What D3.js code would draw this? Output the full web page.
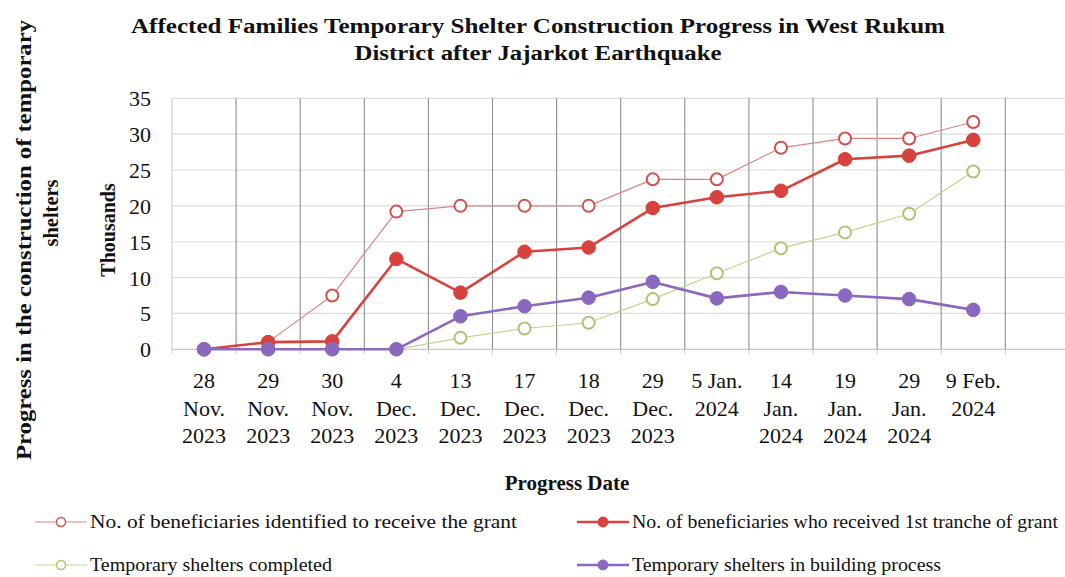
<!DOCTYPE html>
<html>
<head>
<meta charset="utf-8">
<script src="https://cdn.jsdelivr.net/npm/d3@7"></script>
<style>
  html, body { margin: 0; padding: 0; background: #fff; }
  svg { display: block; }
  svg text { font-family: "Liberation Serif", "DejaVu Serif", serif; }
</style>
</head>
<body>
<svg id="chart" width="1065" height="577"></svg>
<script>
// Progress dates (each label split over lines)
const dateLabels = [
  ["28", "Nov.", "2023"],
  ["29", "Nov.", "2023"],
  ["30", "Nov.", "2023"],
  ["4", "Dec.", "2023"],
  ["13", "Dec.", "2023"],
  ["17", "Dec.", "2023"],
  ["18", "Dec.", "2023"],
  ["29", "Dec.", "2023"],
  ["5 Jan.", "2024"],
  ["14", "Jan.", "2024"],
  ["19", "Jan.", "2024"],
  ["29", "Jan.", "2024"],
  ["9 Feb.", "2024"]
];

// Values in thousands
const identified = [0, 1.0, 7.5, 19.2, 20.0, 20.0, 20.0, 23.7, 23.7, 28.1, 29.4, 29.4, 31.7];
const firstTranche = [0, 1.0, 1.1, 12.6, 7.9, 13.6, 14.2, 19.7, 21.2, 22.1, 26.5, 27.0, 29.2];
const completed = [0, 0, 0, 0, 1.6, 2.9, 3.7, 7.0, 10.6, 14.1, 16.3, 18.9, 24.8];
const inProgress = [0, 0, 0, 0, 4.6, 6.0, 7.2, 9.4, 7.1, 8.0, 7.5, 7.0, 5.5];

const yTicks = [0, 5, 10, 15, 20, 25, 30, 35];

const seriesNames = [
  "No. of beneficiaries identified to receive the grant",
  "No. of beneficiaries who received 1st tranche of grant",
  "Temporary shelters completed",
  "Temporary shelters in building process"
];

const series = [
  { name: seriesNames[0], values: identified,   color: "#d2504c", line: "#dc8582", lw: 1.2, filled: false },
  { name: seriesNames[1], values: firstTranche, color: "#d8423c", line: "#d8423c", lw: 2.6, filled: true },
  { name: seriesNames[2], values: completed,    color: "#a9c76c", line: "#bfd68f", lw: 1.2, filled: false },
  { name: seriesNames[3], values: inProgress,   color: "#8a68bf", line: "#8a68bf", lw: 2.6, filled: true }
];

const FONT = "Liberation Serif";
const svg = d3.select("#chart");
const plotLeft = 172, plotTop = 98.3, plotBottom = 349.3, bandW = 64.1;
const nBands = dateLabels.length + 1; // one empty band after the last date

const x = d3.scaleBand()
  .domain(d3.range(nBands))
  .range([plotLeft, plotLeft + nBands * bandW])
  .paddingInner(0).paddingOuter(0);
const y = d3.scaleLinear().domain([0, 35]).range([plotBottom, plotTop]);
const cx = i => x(i) + x.bandwidth() / 2;

// Horizontal grid
svg.append("g").selectAll("line").data(yTicks).join("line")
  .attr("x1", plotLeft).attr("x2", plotLeft + nBands * bandW)
  .attr("y1", d => y(d)).attr("y2", d => y(d))
  .attr("stroke", d => d === 0 ? "#c8c8c8" : "#dcdcdc").attr("stroke-width", 1.2);

// Left edge
svg.append("line")
  .attr("x1", plotLeft).attr("x2", plotLeft)
  .attr("y1", y(35)).attr("y2", y(0))
  .attr("stroke", "#d0d0d0").attr("stroke-width", 1.2);

// Vertical category separators
svg.append("g").selectAll("line").data(d3.range(1, nBands)).join("line")
  .attr("x1", d => x(d)).attr("x2", d => x(d))
  .attr("y1", y(35)).attr("y2", y(0))
  .attr("stroke", "#8e8e8e").attr("stroke-width", 1.1);

// Small ticks below baseline
svg.append("g").selectAll("line").data(d3.range(0, nBands + 1)).join("line")
  .attr("x1", d => plotLeft + d * bandW).attr("x2", d => plotLeft + d * bandW)
  .attr("y1", y(0)).attr("y2", y(0) + 5)
  .attr("stroke", "#d0d0d0").attr("stroke-width", 1);

// Y axis labels
const yAxis = d3.axisLeft(y).tickValues(yTicks).tickSize(0).tickPadding(0).tickFormat(d3.format("d"));
const yg = svg.append("g").attr("transform", "translate(151,0)").call(yAxis)
  .attr("font-family", FONT);
yg.select(".domain").remove();
yg.selectAll("text").attr("font-size", 22).attr("fill", "#111")
  .attr("font-family", FONT).attr("dy", "0.34em");

// X axis labels
const xg = svg.append("g").attr("font-family", FONT);
dateLabels.forEach((lines, i) => {
  const t = xg.append("text").attr("x", cx(i)).attr("y", 388)
    .attr("text-anchor", "middle").attr("font-size", 22).attr("fill", "#111")
    .attr("font-family", FONT);
  lines.forEach((ln, k) => {
    t.append("tspan").attr("x", cx(i)).attr("dy", k === 0 ? 0 : 27.5).text(ln);
  });
});

// Series lines and markers
const line = d3.line().x((d, i) => cx(i)).y(d => y(d));
series.forEach(s => {
  svg.append("path").datum(s.values)
    .attr("d", line).attr("fill", "none")
    .attr("stroke", s.line).attr("stroke-width", s.lw)
    .attr("stroke-linejoin", "round");
  svg.append("g").selectAll("circle").data(s.values).join("circle")
    .attr("cx", (d, i) => cx(i)).attr("cy", d => y(d))
    .attr("r", s.filled ? 6.8 : 6)
    .attr("fill", s.filled ? s.color : "#fff")
    .attr("stroke", s.color).attr("stroke-width", s.filled ? 1 : 2);
});

function label(sel) {
  return sel.attr("font-family", FONT).attr("fill", "#111");
}

// Title
label(svg.append("text")).attr("x", 538).attr("y", 33).attr("text-anchor", "middle")
  .attr("font-size", 20).attr("font-weight", "bold")
  .attr("textLength", 814).attr("lengthAdjust", "spacingAndGlyphs")
  .text("Affected Families Temporary Shelter Construction Progress in West Rukum");
label(svg.append("text")).attr("x", 538).attr("y", 60).attr("text-anchor", "middle")
  .attr("font-size", 20).attr("font-weight", "bold")
  .attr("textLength", 367).attr("lengthAdjust", "spacingAndGlyphs")
  .text("District after Jajarkot Earthquake");

// Axis titles
label(svg.append("text")).attr("x", 567).attr("y", 490).attr("text-anchor", "middle")
  .attr("font-size", 21).attr("font-weight", "bold")
  .text("Progress Date");

label(svg.append("text")).attr("transform", "translate(115,230) rotate(-90)")
  .attr("text-anchor", "middle").attr("font-size", 20).attr("font-weight", "bold")
  .text("Thousands");

label(svg.append("text")).attr("transform", "translate(31,240) rotate(-90)")
  .attr("text-anchor", "middle").attr("font-size", 20).attr("font-weight", "bold")
  .attr("textLength", 440).attr("lengthAdjust", "spacingAndGlyphs")
  .text("Progress in the construction of temporary");
label(svg.append("text")).attr("transform", "translate(58,213) rotate(-90)")
  .attr("text-anchor", "middle").attr("font-size", 20).attr("font-weight", "bold")
  .attr("textLength", 67).attr("lengthAdjust", "spacingAndGlyphs")
  .text("shelters");

// Legend
const legendPos = [
  { x: 35, y: 522, tx: 90, w: 427 },
  { x: 577, y: 522, tx: 632, w: 426 },
  { x: 35, y: 565, tx: 90, w: 242 },
  { x: 577, y: 565, tx: 632, w: 309 }
];
series.forEach((s, i) => {
  const p = legendPos[i];
  const g = svg.append("g");
  g.append("line").attr("x1", p.x).attr("x2", p.x + 52)
    .attr("y1", p.y).attr("y2", p.y)
    .attr("stroke", s.line).attr("stroke-width", s.filled ? 2.6 : 1.2);
  g.append("circle").attr("cx", p.x + 26).attr("cy", p.y)
    .attr("r", s.filled ? 5 : 4.5)
    .attr("fill", s.filled ? s.color : "#fff")
    .attr("stroke", s.color).attr("stroke-width", s.filled ? 1 : 1.5);
  label(g.append("text")).attr("x", p.tx).attr("y", p.y + 6)
    .attr("font-size", 19)
    .attr("textLength", p.w).attr("lengthAdjust", "spacingAndGlyphs")
    .text(s.name);
});
</script>
</body>
</html>
